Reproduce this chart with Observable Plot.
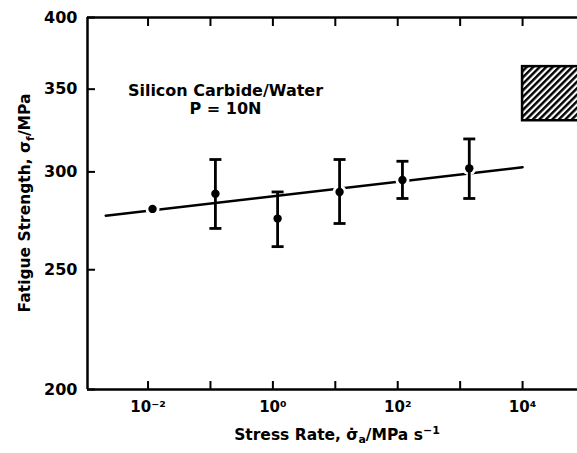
<!DOCTYPE html>
<html><head><meta charset="utf-8">
<script src="https://cdn.jsdelivr.net/npm/d3@7"></script>
<script src="https://cdn.jsdelivr.net/npm/@observablehq/plot@0.6"></script>
<style>html,body{margin:0;padding:0;background:#fff;overflow:hidden}svg{display:block}</style>
</head><body><div id="chart"></div>
<script>
// data
const rate = [0.0118, 0.12, 1.19, 11.7, 119, 1400];
const strength = [280, 288, 275, 289, 295.5, 302];
const errLow = [null, 270, 261, 272.5, 285.5, 285.5];
const errHigh = [null, 307, 289, 307, 306, 319];
const fitRate = [0.0021, 10000];
const fitStrength = [276.5, 302.6];
const yTicks = [200, 250, 300, 350, 400];
const xTicks = [1e-2, 1e-1, 1, 10, 100, 1e3, 1e4];
const xTickLabels = {"-2": "10⁻²", "0": "10⁰", "2": "10²", "4": "10⁴"};
const xDomain = [10 ** -2.97, 10 ** 4.88];
const yDomain = [200, 400];
const boxRate = [1e4, 1e6];
const boxStrength = [330, 365];
const noteLines = ["Silicon Carbide/Water", "P = 10N"];
const noteRate = 0.174;
const noteStrength = 343.6;

const points = rate.map((r, i) => ({r, s: strength[i], lo: errLow[i], hi: errHigh[i]}));
const bars = points.filter(d => d.lo != null);
const fit = fitRate.map((r, i) => ({r, s: fitStrength[i]}));
const cap = {draw(ctx, size) { const w = Math.sqrt(size / Math.PI); ctx.moveTo(-w, 0); ctx.lineTo(w, 0); }};
const FONT = "'DejaVu Sans', 'Liberation Sans', Arial, sans-serif";

const plot = Plot.plot({
  width: 577, height: 453,
  marginLeft: 87, marginRight: 0, marginTop: 17, marginBottom: 64,
  style: {fontFamily: FONT, fontWeight: "bold", fontSize: "15px", color: "black", background: "white"},
  x: {type: "log", domain: xDomain},
  y: {type: "log", domain: yDomain},
  marks: [
    Plot.rect([0], {x1: () => boxRate[0], x2: () => boxRate[1], y1: () => boxStrength[0], y2: () => boxStrength[1],
      fill: "url(#hatch)", stroke: "black", strokeWidth: 2.5, clip: true}),
    Plot.line(fit, {x: "r", y: "s", stroke: "black", strokeWidth: 2.5}),
    Plot.dot(points, {x: "r", y: "s", r: 7, fill: "white", stroke: "none"}),
    Plot.ruleX(bars, {x: "r", y1: "lo", y2: "hi", stroke: "black", strokeWidth: 2.8}),
    Plot.dot(bars, {x: "r", y: "lo", symbol: cap, r: 6, stroke: "black", strokeWidth: 2.8, fill: "none"}),
    Plot.dot(bars, {x: "r", y: "hi", symbol: cap, r: 6, stroke: "black", strokeWidth: 2.8, fill: "none"}),
    Plot.dot(points, {x: "r", y: "s", r: 4.2, fill: "black", stroke: "none"}),
    Plot.text([noteLines.join("\n")], {x: () => noteRate, y: () => noteStrength, text: d => d,
      fontSize: 16, fontWeight: "bold", lineHeight: 1.1, textAnchor: "middle", fill: "black"}),
    Plot.ruleX([xDomain[0]], {stroke: "black", strokeWidth: 2.5}),
    Plot.ruleY(yDomain, {stroke: "black", strokeWidth: 2.5}),
    Plot.axisY({anchor: "left", ticks: yTicks, tickSize: -8, tickPadding: 18, strokeWidth: 2,
      tickFormat: d3.format("d"), fontSize: 16, label: null}),
    Plot.axisX({anchor: "bottom", ticks: xTicks, tickSize: -8, tickPadding: 20, strokeWidth: 2,
      tickFormat: d => xTickLabels[Math.round(Math.log10(d))] ?? "", fontSize: 15, label: null}),
    Plot.axisX({anchor: "top", ticks: xTicks, tickSize: -8, strokeWidth: 2, tickFormat: () => "", label: null})
  ]
});

const svg = d3.select(plot);
svg.insert("defs", ":first-child").html(
  `<pattern id="hatch" patternUnits="userSpaceOnUse" width="4.6" height="4.6" patternTransform="rotate(45)">
     <rect width="4.6" height="4.6" fill="white"/>
     <line x1="1.2" y1="-1" x2="1.2" y2="6" stroke="black" stroke-width="2.5"/>
   </pattern>`);

// axis titles with sub/superscripts
const yl = svg.append("text").attr("transform", "translate(25,203) rotate(-90)")
  .attr("text-anchor", "middle").attr("dy", "0.35em")
  .attr("font-size", 15.5).attr("font-weight", "bold").attr("fill", "black");
yl.append("tspan").text("Fatigue Strength, σ");
yl.append("tspan").attr("font-size", 11).attr("dy", "0.3em").text("f");
yl.append("tspan").attr("dy", "-0.22em").text("/MPa");

const xl = svg.append("text").attr("x", 337).attr("y", 440)
  .attr("text-anchor", "middle").attr("font-size", 15.5).attr("font-weight", "bold").attr("fill", "black");
xl.append("tspan").text("Stress Rate, σ̇");
xl.append("tspan").attr("font-size", 11).attr("dy", "0.3em").text("a");
xl.append("tspan").attr("dy", "-0.22em").text("/MPa s");
xl.append("tspan").attr("font-size", 11).attr("dy", "-0.5em").text("−1");

document.getElementById("chart").append(plot);
</script></body></html>
